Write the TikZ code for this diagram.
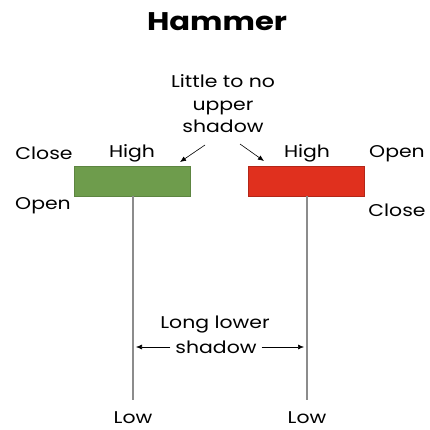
\documentclass[tikz,border=0pt]{standalone}
\usepackage{fontspec}
\setmainfont{Poppins}[FakeStretch=1.2]
\definecolor{HammerGreen}{HTML}{6E9C4C}
\definecolor{HammerRed}{HTML}{E0301E}
\definecolor{WickGray}{HTML}{8C8C8C}
\usetikzlibrary{arrows.meta,positioning,calc}

\begin{document}
\begin{tikzpicture}[x=1pt,y=-1pt,
    body/.style={minimum width=116pt,minimum height=30pt,inner sep=0pt},
    tag/.style={font=\fontsize{17}{22}\selectfont,inner sep=0pt},
    wick/.style={draw=WickGray,line width=1.3pt},
    pointer/.style={-{Latex[length=6pt,width=5pt]},line width=0.6pt}]
  \useasboundingbox (0,0) rectangle (429,430);

  \node[font=\bfseries\fontsize{25.5}{30}\selectfont] (title) at (217,22) {Hammer};

  % the two candle bodies
  \node[body,fill=HammerGreen,draw=HammerGreen!85!black] (green) at (132,181) {};
  \node[body,fill=HammerRed,draw=HammerRed!80!black] (red) at (306,181) {};

  % lower shadows
  \coordinate (greenlow) at (133,400);
  \coordinate (redlow) at (307,400);
  \draw[wick] (green.south -| greenlow) -- (greenlow);
  \draw[wick] (red.south -| redlow) -- (redlow);

  % price labels
  \node[tag] (closeL) at (44,153) {Close};
  \node[tag] (highL) at (132,153) {High};
  \node[tag] (openL) at (43,206) {Open};
  \node[tag] (highR) at (307,153) {High};
  \node[tag] (openR) at (397,154) {Open};
  \node[tag] (closeR) at (397,210) {Close};
  \node[tag,below=11pt of greenlow] (lowL) {Low};
  \node[tag,below=11pt of redlow] (lowR) {Low};

  % upper shadow note
  \node[tag,align=center,font=\fontsize{17}{22.5}\selectfont] (note) at (223,104)
    {Little to no\\upper\\shadow};
  \coordinate (tipL) at (180,162);
  \coordinate (tipR) at (264,161);
  \draw[pointer] (205,145) -- (tipL);
  \draw[pointer] (240,144) -- (tipR);

  % lower shadow note
  \node[tag] (longtxt) at (215,325) {Long lower};
  \node[tag] (shadowtxt) at (216,347) {shadow};
  \draw[pointer] ([xshift=-5pt]shadowtxt.west) -- ([xshift=3pt]shadowtxt.west -| greenlow);
  \draw[pointer] ([xshift=5pt]shadowtxt.east) -- ([xshift=-3pt]shadowtxt.east -| redlow);
\end{tikzpicture}
\end{document}
